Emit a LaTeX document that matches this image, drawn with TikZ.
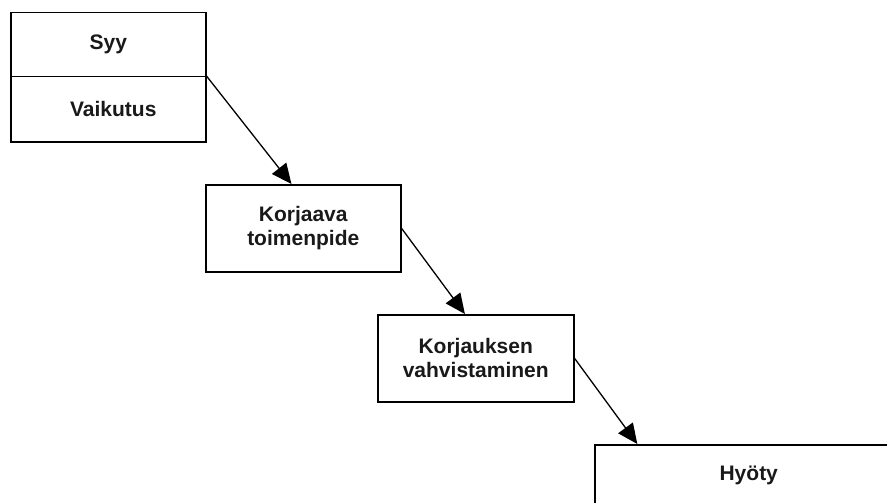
\documentclass[tikz,border=0pt]{standalone}
\usepackage{fontspec}
\setmainfont{Liberation Sans}
\usetikzlibrary{arrows.meta,calc}
\begin{document}
\begin{tikzpicture}[x=1pt,y=-1pt,
  box/.style={draw=black,line width=1.5pt,rectangle,inner sep=0pt,anchor=north west,
    font=\fontsize{21}{24}\selectfont\bfseries,align=center,text=black!90},
  conn/.style={line width=1.3pt,-{Triangle[length=20pt,width=18pt]}}]
\useasboundingbox (0,0) rectangle (887,503);
\clip (0,0) rectangle (887,503);
\node[box,minimum width=195pt,minimum height=64pt] (syy) at (10,12) {Syy};
\node[box,minimum width=195pt,minimum height=65pt] (vaik) at (10,76) {\hspace*{10pt}Vaikutus};
\node[box,minimum width=195pt,minimum height=87pt] (kor) at (205,184) {Korjaava\\toimenpide};
\node[box,minimum width=196pt,minimum height=87pt] (vah) at (377,314) {Korjauksen\\vahvistaminen};
\node[box,minimum width=308pt,minimum height=62pt] (hyo) at (594,444) {Hyöty};
\draw[conn] (vaik.north east) -- ($(kor.north west)!0.44!(kor.north east)$);
\draw[conn] (kor.east) -- ($(vah.north west)!0.445!(vah.north east)$);
\draw[conn] (vah.east) -- ($(hyo.north west)!0.14!(hyo.north east)$);
\end{tikzpicture}
\end{document}
